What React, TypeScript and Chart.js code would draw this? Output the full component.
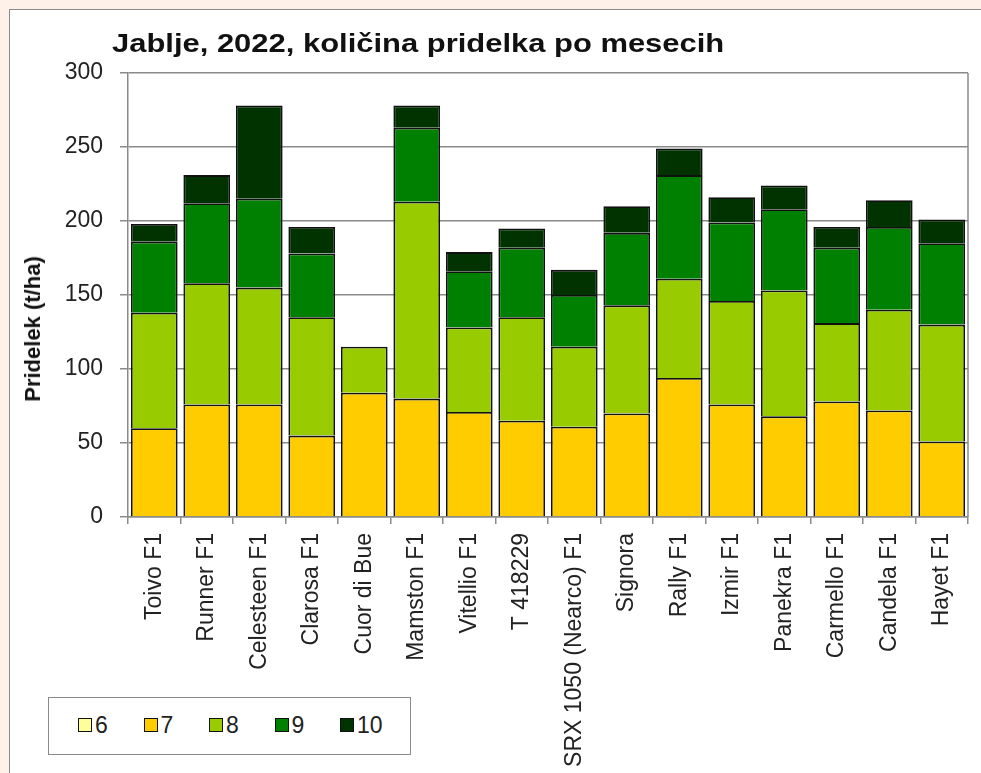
import React, { useEffect, useRef } from "react";
import { Chart, registerables } from "chart.js";

Chart.register(...registerables);

const categories = [
  "Toivo F1", "Runner F1", "Celesteen F1", "Clarosa F1", "Cuor di Bue", "Mamston F1",
  "Vitellio F1", "T 418229", "SRX 1050 (Nearco) F1", "Signora", "Rally F1", "Izmir F1",
  "Panekra F1", "Carmello F1", "Candela F1", "Hayet F1",
];
const m6 = [0, 0, 0, 0, 0, 0, 0, 0, 0, 0, 0, 0, 0, 0, 0, 0];
const m7 = [60, 76, 76, 55, 84, 80, 71, 65, 61, 70, 94, 76, 68, 78, 72, 51];
const m8 = [78, 82, 79, 80, 31, 133, 57, 70, 54, 73, 67, 70, 85, 53, 68, 79];
const m9 = [48, 54, 60, 43, 0, 50, 38, 47, 35, 49, 70, 53, 55, 51, 56, 55];
const m10 = [12, 19, 63, 18, 0, 15, 13, 13, 17, 18, 18, 17, 16, 14, 18, 16];
const seriesNames = ["6", "7", "8", "9", "10"];
const seriesColors = ["#FFFF99", "#FFCC00", "#99CC00", "#008000", "#003300"];
const yTicks = [0, 50, 100, 150, 200, 250, 300];

const FONT = "'Liberation Sans', Arial, sans-serif";

const frame = {
  id: "frame",
  afterDatasetsDraw(chart: any) {
    const { ctx, chartArea } = chart;
    ctx.save();
    ctx.strokeStyle = "#8a8a8a";
    ctx.lineWidth = 1.5;
    ctx.beginPath();
    ctx.moveTo(chartArea.right, chartArea.top);
    ctx.lineTo(chartArea.right, chartArea.bottom);
    ctx.stroke();
    ctx.restore();
  },
};

export default function App() {
  const ref = useRef<HTMLCanvasElement>(null);
  useEffect(() => {
    const data = [m6, m7, m8, m9, m10];
    const chart = new Chart(ref.current!, {
      type: "bar",
      data: {
        labels: categories,
        datasets: data.map((d, i) => ({
          label: seriesNames[i],
          data: d,
          backgroundColor: seriesColors[i],
          borderColor: "#111",
          borderWidth: 1.8,
          barPercentage: 0.89,
          categoryPercentage: 1,
        })),
      },
      options: {
        responsive: false,
        animation: false,
        layout: { padding: { left: 0, top: 73, right: 13, bottom: 0 } },
        plugins: { legend: { display: false }, tooltip: { enabled: false } },
        scales: {
          x: {
            stacked: true,
            afterFit: (s: any) => { s.height = 256; },
            grid: { drawOnChartArea: false, drawTicks: true, tickLength: 7, color: "#8a8a8a", lineWidth: 1.5, offset: true },
            border: { color: "#8a8a8a", width: 1.5 },
            ticks: {
              autoSkip: false,
              minRotation: 90,
              maxRotation: 90,
              color: "#222",
              padding: 9,
              font: { family: FONT, size: 23 },
            },
          },
          y: {
            stacked: true,
            min: 0,
            max: 300,
            afterFit: (s: any) => { s.width = 128; },
            afterBuildTicks: (s: any) => { s.ticks = yTicks.map((v) => ({ value: v })); },
            grid: { color: "#8a8a8a", lineWidth: 1.5, tickLength: 8 },
            border: { color: "#8a8a8a", width: 1.5 },
            ticks: { color: "#222", padding: 17, font: { family: FONT, size: 23 } },
          },
        },
      },
      plugins: [frame],
    });
    return () => chart.destroy();
  }, []);

  return (
    <div style={{ position: "fixed", left: 0, top: 0, width: 981, height: 773, background: "#fdf1ea", overflow: "hidden" }}>
      <div style={{ position: "absolute", left: 9, top: 9, width: 972, height: 764, background: "#fff", borderLeft: "1.5px solid #8a8a8a", borderTop: "1.5px solid #8a8a8a" }} />
      <canvas ref={ref} width={981} height={773} style={{ position: "absolute", left: 0, top: 0 }} />
      <div style={{ position: "absolute", left: 112, top: 27, fontFamily: FONT, fontWeight: "bold", fontSize: 26, lineHeight: "32px", color: "#111", whiteSpace: "nowrap", transform: "scaleX(1.19)", transformOrigin: "left center" }}>
        Jablje, 2022, količina pridelka po mesecih
      </div>
      <div style={{ position: "absolute", left: 33, top: 329, transform: "translate(-50%, -50%) rotate(-90deg)", fontFamily: FONT, fontWeight: "bold", fontSize: 22, color: "#111", whiteSpace: "nowrap" }}>
        Pridelek (t/ha)
      </div>
      <div style={{ position: "absolute", left: 48, top: 697, width: 363, height: 58, border: "1.5px solid #8a8a8a", background: "#fff", boxSizing: "border-box", fontFamily: FONT, fontSize: 23, color: "#222" }}>
        {seriesNames.map((n, i) => (
          <div key={n} style={{ position: "absolute", left: 29 + i * 65.5, top: 13, display: "flex", alignItems: "center", height: 28 }}>
            <span style={{ display: "inline-block", width: 12, height: 12, background: seriesColors[i], border: "1.5px solid #111", marginRight: 3 }} />
            <span>{n}</span>
          </div>
        ))}
      </div>
    </div>
  );
}
